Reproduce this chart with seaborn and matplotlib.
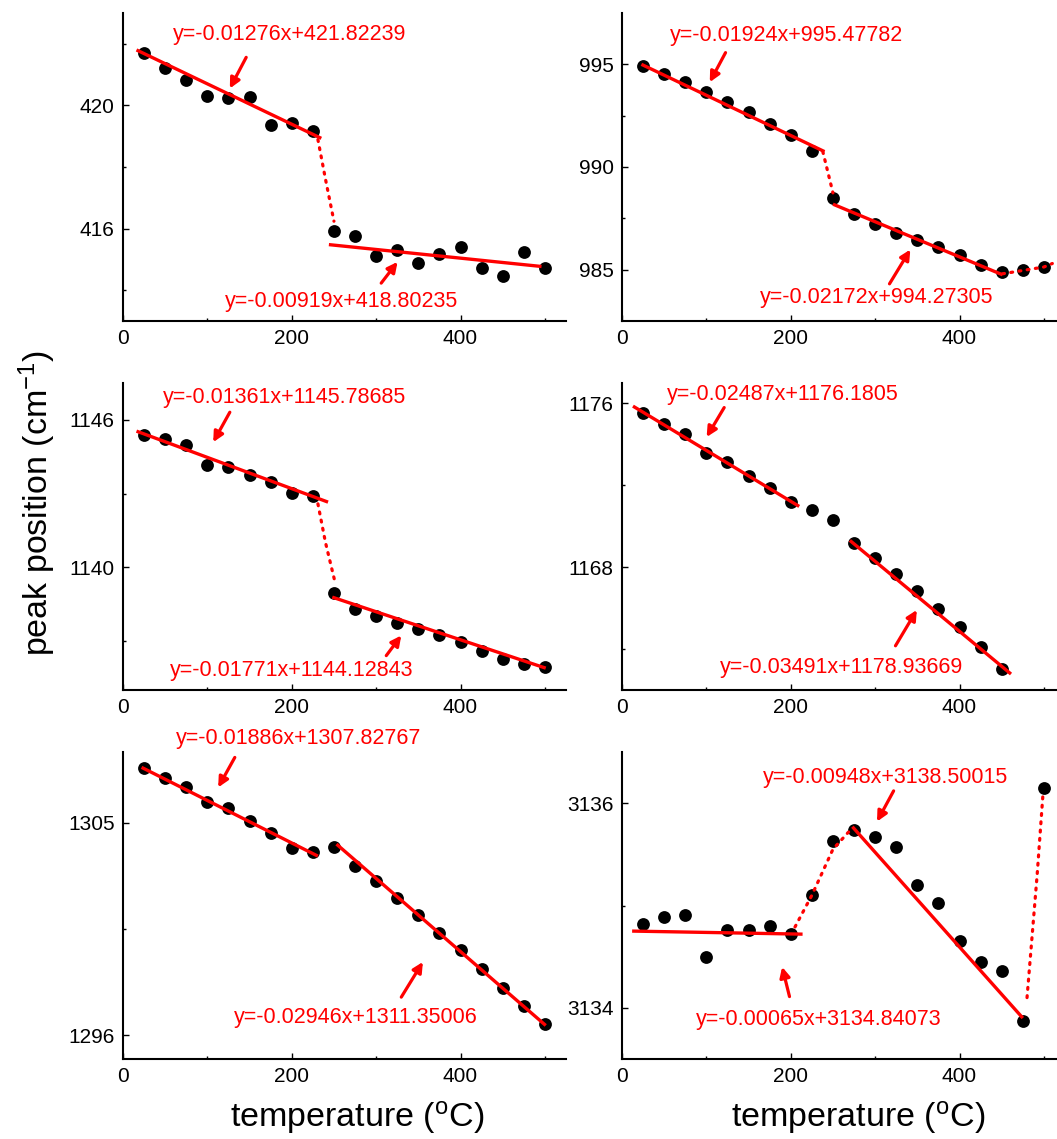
import matplotlib
matplotlib.use("Agg")
import matplotlib.pyplot as plt
import seaborn as sns

# ------------------ DATA ------------------

temp = [25, 50, 75, 100, 125, 150, 175, 200, 225, 250,
        275, 300, 325, 350, 375, 400, 425, 450, 475, 500]
temp_1176 = temp[:18]

peak_421 = [421.69, 421.23, 420.81, 420.29, 420.23, 420.28, 419.37, 419.42, 419.16, 415.93,
            415.76, 415.12, 415.32, 414.87, 415.16, 415.41, 414.73, 414.45, 415.24, 414.72]
peak_995 = [994.92, 994.51, 994.15, 993.66, 993.17, 992.66, 992.11, 991.57, 990.78, 988.49,
            987.73, 987.22, 986.80, 986.45, 986.08, 985.72, 985.25, 984.90, 984.96, 985.13]
peak_1146 = [1145.40, 1145.20, 1144.99, 1144.17, 1144.07, 1143.76, 1143.48, 1143.04, 1142.91, 1138.94,
             1138.29, 1138.02, 1137.72, 1137.49, 1137.22, 1136.94, 1136.58, 1136.25, 1136.06, 1135.92]
peak_1176 = [1175.54, 1174.99, 1174.50, 1173.57, 1173.14, 1172.47, 1171.87, 1171.18, 1170.81, 1170.29,
             1169.19, 1168.44, 1167.68, 1166.82, 1165.96, 1165.06, 1164.08, 1163.02]
peak_1305 = [1307.31, 1306.92, 1306.50, 1305.89, 1305.61, 1305.07, 1304.55, 1303.94, 1303.77, 1303.96,
             1303.18, 1302.53, 1301.80, 1301.09, 1300.34, 1299.60, 1298.79, 1298.02, 1297.24, 1296.50]
peak_3136 = [3134.82, 3134.89, 3134.91, 3134.50, 3134.76, 3134.76, 3134.80, 3134.72, 3135.10, 3135.63,
             3135.74, 3135.67, 3135.57, 3135.20, 3135.02, 3134.65, 3134.45, 3134.36, 3133.87, 3136.15]

# tramos ajustados: [x0, x1, y0, y1]
fits_421 = [[16, 235, 421.80, 418.93], [244, 496, 415.48, 414.77]]
fits_995 = [[23, 240, 995.00, 990.75], [250, 451, 988.19, 984.75]]
fits_1146 = [[16, 243, 1145.54, 1142.65], [248, 501, 1138.78, 1135.89]]
fits_1176 = [[13, 210, 1175.87, 1170.97], [270, 461, 1169.31, 1162.78]]
fits_1305 = [[22, 231, 1307.35, 1303.59], [253, 501, 1304.10, 1296.42]]
fits_3136 = [[12, 214, 3134.75, 3134.72], [273, 475, 3135.77, 3133.90]]

# uniones punteadas: (x, y)
dots_421 = [([231, 240, 250], [418.89, 417.6, 416.24])]
dots_995 = [([238, 250], [990.75, 988.74]),
            ([451, 475, 500, 510], [984.80, 984.96, 985.13, 985.30])]
dots_1146 = [([231, 240, 251], [1142.58, 1141.0, 1139.43])]
dots_3136 = [([205, 225, 250, 272], [3134.79, 3135.10, 3135.55, 3135.75]),
             ([480, 492, 499], [3134.10, 3135.30, 3136.10])]

eqs_421 = ["y=-0.01276x+421.82239", "y=-0.00919x+418.80235"]
eqs_995 = ["y=-0.01924x+995.47782", "y=-0.02172x+994.27305"]
eqs_1146 = ["y=-0.01361x+1145.78685", "y=-0.01771x+1144.12843"]
eqs_1176 = ["y=-0.02487x+1176.1805", "y=-0.03491x+1178.93669"]
eqs_1305 = ["y=-0.01886x+1307.82767", "y=-0.02946x+1311.35006"]
eqs_3136 = ["y=-0.00948x+3138.50015", "y=-0.00065x+3134.84073"]

# ------------------ ESTILO ------------------

sns.set_style("ticks")
plt.rcParams["font.family"] = ["Liberation Sans", "DejaVu Sans"]
plt.rcParams["text.color"] = "black"
plt.rcParams["mathtext.fontset"] = "custom"
plt.rcParams["mathtext.rm"] = "Liberation Sans"
plt.rcParams["mathtext.it"] = "Liberation Sans:italic"
plt.rcParams["mathtext.default"] = "regular"

W, H = 1057, 1139
fig = plt.figure(figsize=(W / 100, H / 100), dpi=100)


def add_axes(left, top, bottom, width=443):
    return fig.add_axes([left / W, 1 - bottom / H, width / W, (bottom - top) / H])


def draw(ax, x, y, fits, dots, eqs, notes, ylim, major, minor):
    for f in fits:
        ax.plot([f[0], f[1]], [f[2], f[3]], color="red", lw=2.4, zorder=3,
                solid_capstyle="butt")
    for dx, dy in dots:
        ax.plot(dx, dy, color="red", lw=2.3, linestyle=(0, (0.6, 2.0)),
                dash_capstyle="round", zorder=3)
    sns.scatterplot(x=x, y=y, color="black", s=85, linewidth=0, zorder=2, ax=ax)
    for eq, (tc, tail, tip) in zip(eqs, notes):
        ax.text(tc[0], tc[1], eq, color="red", fontsize=15.5, ha="center",
                va="center", zorder=4)
        ax.annotate("", xy=tip, xytext=tail,
                    arrowprops=dict(arrowstyle="-|>", color="red", lw=2.3,
                                    mutation_scale=15, shrinkA=0, shrinkB=0))
    ax.set_xlim(0, 525)
    ax.set_ylim(*ylim)
    ax.set_xticks([0, 200, 400])
    ax.set_xticks([100, 300, 500], minor=True)
    ax.set_yticks(major)
    ax.set_yticks(minor, minor=True)
    ax.set_yticklabels([f"{v:g}" for v in major])
    ax.tick_params(which="both", direction="in", width=1.0, labelsize=15,
                   colors="black")
    ax.tick_params(which="major", length=4.5, pad=6)
    ax.tick_params(which="minor", length=2.5)
    for s in ["left", "bottom"]:
        ax.spines[s].set_linewidth(1.5)
        ax.spines[s].set_color("black")
    sns.despine(ax=ax)
    ax.set_xlabel("")
    ax.set_ylabel("")


ax1 = add_axes(123, 13, 321)
ax2 = add_axes(622, 13, 321)
ax3 = add_axes(123, 383, 690)
ax4 = add_axes(622, 383, 690)
ax5 = add_axes(123, 752, 1059)
ax6 = add_axes(622, 752, 1059)

draw(ax1, temp, peak_421, fits_421, dots_421, eqs_421,
     [((197, 422.3), (146, 421.56), (126.6, 420.55)),
      ((259, 413.64), (306, 414.23), (325.4, 414.92))],
     (413, 423), [416, 420], [414, 418, 422])
draw(ax2, temp, peak_995, fits_995, dots_995, eqs_995,
     [((195, 996.42), (122.7, 995.57), (104, 994.13)),
      ((301.6, 983.66), (317, 984.31), (341.7, 985.98))],
     (982.5, 997.5), [985, 990, 995], [987.5, 992.5])
draw(ax3, temp, peak_1146, fits_1146, dots_1146, eqs_1146,
     [((191, 1146.92), (126.6, 1146.31), (106.9, 1145.09)),
      ((200.2, 1135.79), (312, 1136.40), (329.8, 1137.22))],
     (1135, 1147.5), [1140, 1146], [1137, 1143])
draw(ax4, temp_1176, peak_1176, fits_1176, [], eqs_1176,
     [((190, 1176.46), (121.1, 1175.80), (100.3, 1174.36)),
      ((260.6, 1163.10), (324.1, 1164.16), (349.4, 1165.91))],
     (1162, 1177), [1168, 1176], [1164, 1172])
draw(ax5, temp, peak_1305, fits_1305, [], eqs_1305,
     [((208.4, 1308.58), (132.5, 1307.77), (112.8, 1306.50)),
      ((275.5, 1296.75), (329.8, 1297.62), (355.4, 1299.11))],
     (1295, 1308), [1296, 1305], [1300.5])
draw(ax6, temp, peak_3136, fits_3136, dots_3136, eqs_3136,
     [((311.9, 3136.25), (321.9, 3136.12), (302.2, 3135.82)),
      ((233, 3133.89), (198.5, 3134.11), (189.8, 3134.40))],
     (3133.5, 3136.5), [3134, 3136], [3135])

fig.text(37 / W, 1 - 503 / H, "peak position (cm$^{-1}$)", rotation=90,
         fontsize=24.5, ha="center", va="center", color="black")
fig.text(357 / W, 1 - 1117 / H, "temperature ($^{o}$C)", fontsize=24.5,
         ha="center", va="center", color="black")
fig.text(858 / W, 1 - 1117 / H, "temperature ($^{o}$C)", fontsize=24.5,
         ha="center", va="center", color="black")

fig.savefig("out.png", dpi=100)
